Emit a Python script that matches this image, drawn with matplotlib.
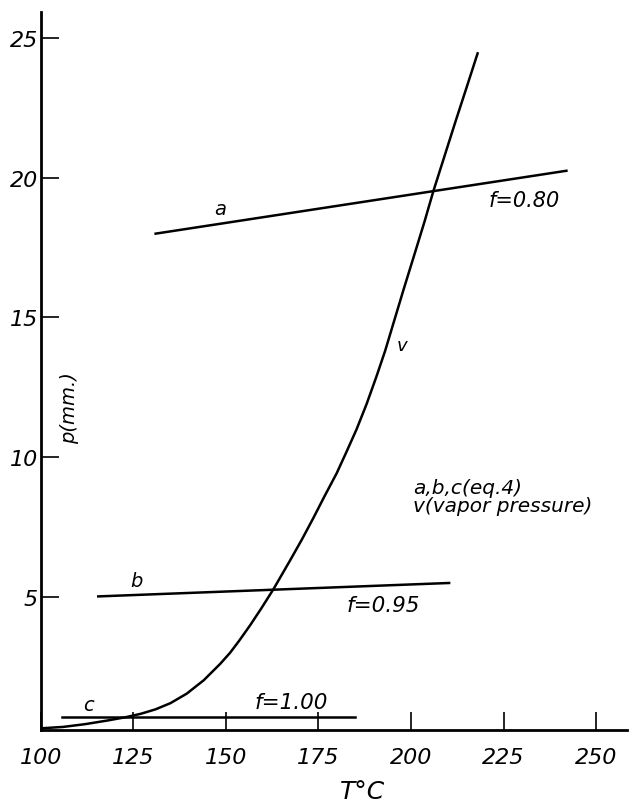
import matplotlib
matplotlib.use("Agg")
import matplotlib.pyplot as plt

# vapor pressure curve v
v_T = [100, 106, 112, 118, 123, 127, 131, 135, 139.4, 144, 148.4, 151.1,
       153.5, 156.5, 159.5, 162.8, 167.3, 170.5, 173.6, 176.7, 179.9, 182.6,
       185.3, 188.0, 190.7, 193.0, 195.5, 198.0, 201.5, 203.7, 206.0, 209.0,
       212.0, 215.0, 218.0]
v_p = [0.30, 0.35, 0.45, 0.58, 0.70, 0.82, 0.98, 1.20, 1.54, 2.02, 2.60, 3.00,
       3.42, 3.98, 4.58, 5.27, 6.30, 7.05, 7.82, 8.62, 9.42, 10.20,
       11.00, 11.90, 12.90, 13.80, 14.90, 16.00, 17.50, 18.45, 19.50, 20.75,
       22.00, 23.22, 24.45]

# straight lines from eq. 4
a_T = [131, 242]
a_p = [18.0, 20.25]
b_T = [115.5, 210.3]
b_p = [5.02, 5.5]
c_T = [105.6, 185]
c_p = [0.72, 0.72]

x_ticks = [100, 125, 150, 175, 200, 225, 250]
y_ticks = [5, 10, 15, 20, 25]

font = dict(family="DejaVu Sans", style="italic")

fig = plt.figure(figsize=(6.29, 8.04), dpi=100)
ax = fig.add_axes([0.065, 0.0908, 0.932, 0.893])

lw = 1.8
ax.plot(v_T, v_p, color="black", lw=lw, solid_joinstyle="round")
ax.plot(a_T, a_p, color="black", lw=lw)
ax.plot(b_T, b_p, color="black", lw=lw)
ax.plot(c_T, c_p, color="black", lw=lw)

ax.set_xlim(100, 258.4)
ax.set_ylim(0.24, 25.93)

for s in ["top", "right"]:
    ax.spines[s].set_visible(False)
for s in ["left", "bottom"]:
    ax.spines[s].set_linewidth(2.0)

ax.set_xticks(x_ticks)
ax.set_yticks(y_ticks)
ax.tick_params(direction="in", length=13, width=1.2)
ax.tick_params(axis="x", pad=12)
ax.tick_params(axis="y", pad=2)
ax.set_xticklabels([str(t) for t in x_ticks], fontsize=16, **font)
ax.set_yticklabels([str(t) for t in y_ticks], fontsize=16, **font)

ax.set_xlabel("T°C", fontsize=18, **font)
ax.xaxis.set_label_coords(0.548, -0.068)

# labels inside the plot
ax.text(107.8, 11.8, "p(mm.)", rotation=90, ha="center", va="center", fontsize=14, **font)
ax.text(148.4, 18.9, "a", ha="center", va="center", fontsize=14, **font)
ax.text(125.9, 5.6, "b", ha="center", va="center", fontsize=14, **font)
ax.text(112.8, 1.14, "c", ha="center", va="center", fontsize=14, **font)
ax.text(197.5, 14.0, "v", ha="center", va="center", fontsize=13, **font)
ax.text(230.5, 19.2, "f=0.80", ha="center", va="center", fontsize=15, **font)
ax.text(192.5, 4.7, "f=0.95", ha="center", va="center", fontsize=15.5, **font)
ax.text(167.7, 1.25, "f=1.00", ha="center", va="center", fontsize=15.5, **font)
ax.text(200.5, 8.6, "a,b,c(eq.4)\nv(vapor pressure)", ha="left", va="center",
        fontsize=14.5, linespacing=0.95, **font)

fig.savefig("out.png", dpi=100)
